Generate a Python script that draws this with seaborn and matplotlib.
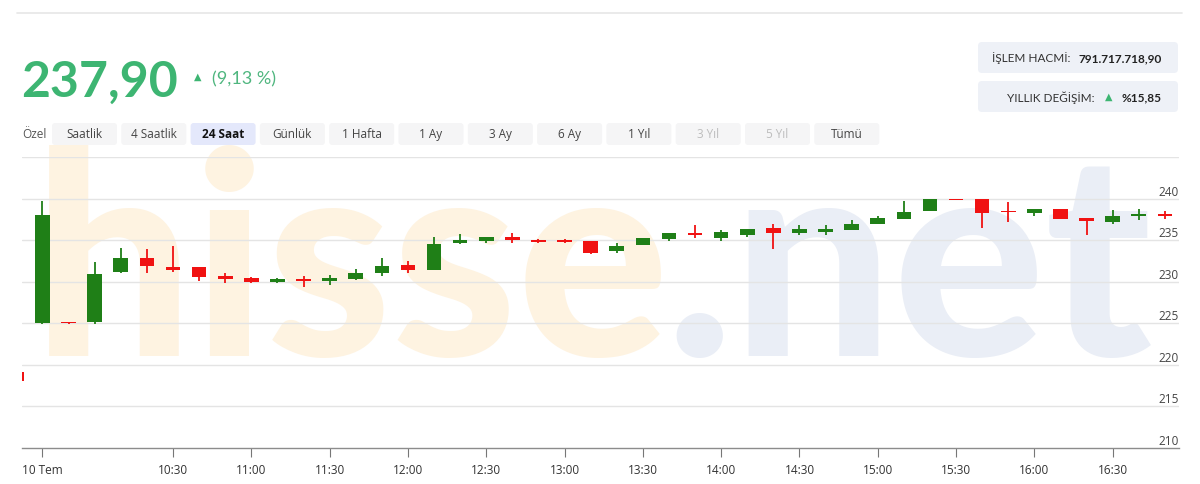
import numpy as np
import pandas as pd
import matplotlib
matplotlib.use("Agg")
import matplotlib.pyplot as plt
import seaborn as sns
from matplotlib.patches import FancyBboxPatch
from matplotlib.transforms import IdentityTransform
from matplotlib.lines import Line2D

# ---------------- data ----------------
times = ["09:30", "09:40", "09:50", "10:00", "10:10", "10:20", "10:30", "10:40", "10:50",
         "11:00", "11:10", "11:20", "11:30", "11:40", "11:50", "12:00", "12:10", "12:20",
         "12:30", "12:40", "12:50", "13:00", "13:10", "13:20", "13:30", "13:40", "13:50",
         "14:00", "14:10", "14:20", "14:30", "14:40", "14:50", "15:00", "15:10", "15:20",
         "15:30", "15:40", "15:50", "16:00", "16:10", "16:20", "16:30", "16:40", "16:50"]
opens = [219.2, 225.0, 225.05, 225.2, 231.2, 232.8, 231.8, 231.8, 230.65,
         230.4, 230.0, 230.35, 230.1, 230.35, 231.05, 232.05, 231.45, 234.6,
         234.95, 235.4, 235.0, 234.95, 234.9, 233.75, 234.45, 235.15, 235.75,
         235.25, 235.65, 236.45, 235.8, 236.0, 236.25, 237.0, 237.6, 238.45,
         239.85, 239.9, 238.45, 238.3, 238.75, 237.65, 237.2, 237.95, 238.1]
highs = [219.3, 239.7, 225.05, 232.4, 234.1, 233.9, 234.3, 231.8, 231.05,
         230.55, 230.5, 230.7, 230.8, 231.5, 232.8, 232.45, 235.35, 235.7,
         235.4, 235.85, 235.1, 235.15, 234.9, 234.65, 235.3, 235.9, 236.8,
         236.25, 236.3, 237.0, 236.85, 236.85, 237.45, 237.9, 239.7, 239.9,
         239.85, 239.9, 239.6, 238.8, 238.75, 237.65, 238.65, 238.8, 238.5]
lows = [217.9, 224.95, 224.95, 224.9, 231.1, 231.0, 231.2, 230.1, 229.85,
        229.85, 229.85, 229.4, 229.6, 230.15, 230.7, 231.05, 231.4, 234.55,
        234.7, 234.65, 234.6, 234.6, 233.35, 233.45, 234.45, 234.85, 235.25,
        234.95, 235.4, 233.9, 235.6, 235.65, 236.25, 236.95, 237.6, 238.45,
        239.8, 236.45, 237.2, 237.85, 237.55, 235.65, 237.0, 237.4, 237.5]
closes = [218.0, 238.05, 225.0, 230.9, 232.8, 231.9, 231.45, 230.55, 230.35,
          230.0, 230.3, 230.1, 230.45, 231.1, 231.95, 231.4, 234.5, 235.0,
          235.35, 235.0, 234.8, 234.8, 233.4, 234.35, 235.25, 235.85, 235.65,
          235.95, 236.3, 235.85, 236.3, 236.35, 237.0, 237.65, 238.4, 239.9,
          239.8, 238.3, 238.35, 238.75, 237.55, 237.25, 237.9, 238.05, 237.9]

tick_times = ["09:40", "10:30", "11:00", "11:30", "12:00", "12:30", "13:00", "13:30",
              "14:00", "14:30", "15:00", "15:30", "16:00", "16:30"]
tick_labels = ["10 Tem", "10:30", "11:00", "11:30", "12:00", "12:30", "13:00", "13:30",
               "14:00", "14:30", "15:00", "15:30", "16:00", "16:30"]
y_ticks = [210, 215, 220, 225, 230, 235, 240]

price_text = "237,90"
change_text = "(9,13 %)"
volume_label = "İŞLEM HACMİ:"
volume_value = "791.717.718,90"
yearly_label = "YILLIK DEĞİŞİM:"
yearly_value = "%15,85"
buttons = ["Saatlik", "4 Saatlik", "24 Saat", "Günlük", "1 Hafta", "1 Ay", "3 Ay",
           "6 Ay", "1 Yıl", "3 Yıl", "5 Yıl", "Tümü"]
selected_button = "24 Saat"
disabled_buttons = ["3 Yıl", "5 Yıl"]

# ---------------- setup ----------------
sns.set_theme(style="white")
plt.rcParams['font.family'] = ['Open Sans', 'DejaVu Sans']

W, H = 1200, 485
fig = plt.figure(figsize=(W / 100, H / 100), dpi=100)
fig.patch.set_facecolor("white")
T = IdentityTransform()

def py(y):
    return H - y

GREEN = "#1f7f17"
RED = "#f01212"

df = pd.DataFrame({"t": pd.to_datetime(times, format="%H:%M"), "open": opens,
                   "high": highs, "low": lows, "close": closes})
t0 = pd.to_datetime("09:40", format="%H:%M")
df["x"] = (df["t"] - t0).dt.total_seconds() / 600.0
df["up"] = df["close"] >= df["open"]
df["color"] = np.where(df["up"], GREEN, RED)

# ---------------- watermark ----------------
fig.text(33, py(356), "hisse", transform=T, fontsize=204, fontweight=900,
         family="Lato", color="#fef3e1", ha="left", va="baseline", zorder=-5)
fig.text(1152, py(356), ".net", transform=T, fontsize=204, fontweight=900,
         family="Lato", color="#eaeef6", ha="right", va="baseline", zorder=-5)

# ---------------- axes ----------------
ax = fig.add_axes([22 / W, 36 / H, 1157 / W, 291 / H])
ax.set_facecolor("none")
ax.set_xlim(-0.785, 43.54)
ax.set_ylim(210, 245)

ax.set_yticks([215, 220, 225, 230, 235, 240, 245])
ax.tick_params(axis="y", left=False, labelleft=False)
ax.grid(axis="y", color="#e4e4e4", lw=1)
ax.grid(axis="x", visible=False)
ax.set_axisbelow(True)
for s in ["top", "left", "right"]:
    ax.spines[s].set_visible(False)
ax.spines["bottom"].set_color("#8c8c8c")
ax.spines["bottom"].set_linewidth(1)

tick_pos = [(pd.to_datetime(t, format="%H:%M") - t0).total_seconds() / 600.0 for t in tick_times]
ax.set_xticks(tick_pos)
ax.set_xticklabels(tick_labels)
ax.tick_params(axis="x", direction="out", length=6.5, width=0.8, color="#777777",
               pad=4, labelsize=8.5, labelcolor="#333333", bottom=True)

for v in y_ticks:
    ax.text(1.0, v + 0.12, str(v), transform=ax.get_yaxis_transform(), ha="right",
            va="bottom", fontsize=8.5, color="#444444")

# candles
body_h = np.maximum((df["close"] - df["open"]).abs(), 0.2)
body_b = np.minimum(df["open"], df["close"])
ax.vlines(df["x"], df["low"], df["high"], colors=df["color"], lw=1.3, zorder=3)
ax.bar(df["x"], body_h, bottom=body_b, width=0.56, color=df["color"],
       edgecolor="none", zorder=4)
sns.despine(ax=ax, left=True, top=True, right=True)

# ---------------- header ----------------
fig.add_artist(Line2D([17, 1182], [py(14), py(14)], transform=T, color="#e6e6e6", lw=1.2))

fig.text(21, py(97), price_text, transform=T, fontsize=36, fontweight="bold",
         family="Lato", color="#3db572", ha="left", va="baseline")
fig.text(198, py(77), "▲", transform=T, fontsize=7, family="DejaVu Sans",
         color="#3db572", ha="center", va="center")
fig.text(212, py(84), change_text, transform=T, fontsize=13, family="Lato",
         color="#4fb67f", ha="left", va="baseline")

# right info boxes
for (y0, y1) in [(43, 74), (82, 113)]:
    fig.add_artist(FancyBboxPatch((978, py(y1)), 200, y1 - y0,
                                  boxstyle="round,pad=0,rounding_size=4",
                                  transform=T, facecolor="#eef1f7", edgecolor="none"))
fig.text(1071, py(58.5), volume_label, transform=T, fontsize=8.5, family="Lato",
         color="#333333", ha="right", va="center")
fig.text(1162, py(58.5), volume_value, transform=T, fontsize=8.5, family="Lato",
         fontweight="bold", color="#222222", ha="right", va="center")
fig.text(1095, py(97.5), yearly_label, transform=T, fontsize=8.5, family="Lato",
         color="#333333", ha="right", va="center")
fig.text(1109, py(96.5), "▲", transform=T, fontsize=7, family="DejaVu Sans",
         color="#3db572", ha="center", va="center")
fig.text(1162, py(97.5), yearly_value, transform=T, fontsize=8.5, family="Lato",
         fontweight="bold", color="#222222", ha="right", va="center")

# buttons row
fig.text(22, py(135), "Özel", transform=T, fontsize=8.5, color="#555555",
         ha="left", va="center")
for i, b in enumerate(buttons):
    cx = 84.5 + 69.3 * i
    sel = b == selected_button
    fig.add_artist(FancyBboxPatch((cx - 32.5, py(146)), 65, 22,
                                  boxstyle="round,pad=0,rounding_size=3", transform=T,
                                  facecolor="#e4e8fb" if sel else "#f5f5f6",
                                  edgecolor="none"))
    col = "#bdbdbd" if b in disabled_buttons else ("#111111" if sel else "#444444")
    fig.text(cx, py(135), b, transform=T, fontsize=8.5, color=col,
             fontweight="bold" if sel else "normal", ha="center", va="center")

fig.savefig("out.png", dpi=100, facecolor="white")
